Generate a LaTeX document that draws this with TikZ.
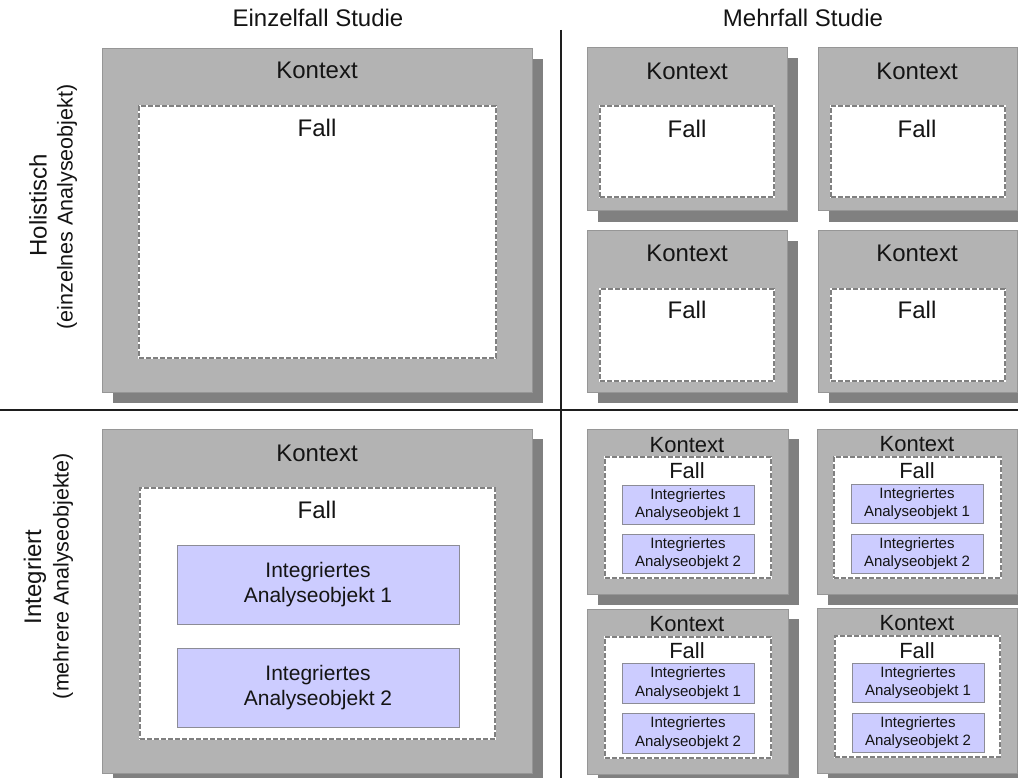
\documentclass[tikz,border=0pt]{standalone}
\usepackage{fontspec}
\setmainfont{Liberation Sans}
\usetikzlibrary{fit}

\definecolor{ctxfill}{RGB}{179,179,179}
\definecolor{ctxline}{RGB}{150,150,150}
\definecolor{shadowc}{RGB}{128,128,128}
\definecolor{fallline}{RGB}{128,128,128}
\definecolor{objfill}{RGB}{204,204,255}
\definecolor{objline}{RGB}{140,140,150}
\definecolor{ink}{RGB}{20,20,20}
\definecolor{rule}{RGB}{30,30,30}

\tikzset{
  ctx/.style={draw=ctxline, fill=ctxfill, line width=1pt, inner sep=0pt},
  shade/.style={fill=shadowc},
  fallbox/.style={fill=white, draw=fallline, line width=1.8pt, inner sep=0pt,
    dash pattern=on 5pt off 2pt,
    preaction={draw=white, solid, line width=1.8pt}},
  obj/.style={draw=objline, fill=objfill, line width=1pt, inner sep=0pt},
  lbl/.style={text=ink, inner sep=0pt, anchor=base},
  biglbl/.style={lbl, font=\fontsize{24}{28}\selectfont},
  midlbl/.style={lbl, font=\fontsize{22}{26}\selectfont},
  objtxt/.style={text=ink, inner sep=0pt, align=center, font=\fontsize{21}{25}\selectfont},
  smallobjtxt/.style={text=ink, inner sep=0pt, align=center, font=\fontsize{15}{18.5}\selectfont},
  sidelbl/.style={text=ink, inner sep=0pt, rotate=90, font=\fontsize{24}{28}\selectfont},
  sidesub/.style={text=ink, inner sep=0pt, rotate=90, font=\fontsize{21.5}{26}\selectfont},
  divider/.style={draw=rule, line width=2pt},
}

% context box with its drop shadow: name, x1, y1, x2, y2
\newcommand\ctxbox[5]{%
  \fill[shade] ({#2+11},{#3+10}) rectangle ({#4+11},{#5+11});
  \node[ctx, fit={(#2,#3) (#4,#5)}] (#1) {};}
% dashed case box: name, x1, y1, x2, y2
\newcommand\casebox[5]{\node[fallbox, fit={(#2,#3) (#4,#5)}] (#1) {};}
% analysis object box: name, x1, y1, x2, y2
\newcommand\objbox[5]{\node[obj, fit={(#2,#3) (#4,#5)}] (#1) {};}

\begin{document}
\begin{tikzpicture}[x=1pt, y=-1pt]
\useasboundingbox[fill=white] (0,0) rectangle (1018,778);

% column headings
\node[biglbl] (hEinzel) at (318,27) {Einzelfall Studie};
\node[biglbl] (hMehr) at (803,27) {Mehrfall Studie};

% row headings
\node[sidelbl] (rHol) at (38,205) {Holistisch};
\node[sidesub] (rHolSub) at (67,207) {(einzelnes Analyseobjekt)};
\node[sidelbl] (rInt) at (35,577) {Integriert};
\node[sidesub] (rIntSub) at (63,576) {(mehrere Analyseobjekte)};

% quadrant dividers
\coordinate (vTop) at (561,30);
\coordinate (vBot) at (561,778);
\coordinate (hL) at (0,410);
\coordinate (hR) at (1018,410);
\draw[divider] (vTop) -- (vBot);
\draw[divider] (hL) -- (hR);

% ---- holistic, single case
\ctxbox{a}{102}{49}{532}{392}
\casebox{af}{139}{106}{496}{358}
\node[biglbl] (ak) at (317,79) {Kontext};
\node[biglbl] (afl) at (317,137) {Fall};

% ---- holistic, multiple cases
\ctxbox{b1}{587}{48}{787}{211}
\casebox{b1f}{600}{106}{774}{197}
\node[biglbl] (b1k) at (687,80) {Kontext};
\node[biglbl] (b1l) at (687,138) {Fall};

\ctxbox{b2}{818}{48}{1017}{211}
\casebox{b2f}{831}{106}{1005}{197}
\node[biglbl] (b2k) at (917,80) {Kontext};
\node[biglbl] (b2l) at (917,138) {Fall};

\ctxbox{b3}{587}{231}{787}{392}
\casebox{b3f}{600}{289}{774}{381}
\node[biglbl] (b3k) at (687,262) {Kontext};
\node[biglbl] (b3l) at (687,319) {Fall};

\ctxbox{b4}{818}{231}{1017}{392}
\casebox{b4f}{831}{289}{1005}{381}
\node[biglbl] (b4k) at (917,262) {Kontext};
\node[biglbl] (b4l) at (917,319) {Fall};

% ---- embedded, single case
\ctxbox{c}{102}{429}{532}{773}
\casebox{cf}{140}{488}{495}{739}
\node[biglbl] (ck) at (317,461) {Kontext};
\node[biglbl] (cl) at (317,518) {Fall};
\objbox{co1}{177}{545}{459}{624}
\node[objtxt] (co1t) at (co1.center) {Integriertes\\Analyseobjekt 1};
\objbox{co2}{177}{648}{459}{727}
\node[objtxt] (co2t) at (co2.center) {Integriertes\\Analyseobjekt 2};

% ---- embedded, multiple cases
\ctxbox{d1}{587}{429}{788}{594}
\casebox{d1f}{605}{457}{771}{578}
\node[midlbl] (d1k) at (687,452) {Kontext};
\node[midlbl] (d1l) at (687,478) {Fall};
\objbox{d1o1}{622}{485}{754}{524}
\node[smallobjtxt] (d1o1t) at (d1o1.center) {Integriertes\\Analyseobjekt 1};
\objbox{d1o2}{622}{534}{754}{573}
\node[smallobjtxt] (d1o2t) at (d1o2.center) {Integriertes\\Analyseobjekt 2};

\ctxbox{d2}{817}{429}{1017}{594}
\casebox{d2f}{834}{457}{1001}{578}
\node[midlbl] (d2k) at (917,451) {Kontext};
\node[midlbl] (d2l) at (917,478) {Fall};
\objbox{d2o1}{851}{484}{983}{523}
\node[smallobjtxt] (d2o1t) at (d2o1.center) {Integriertes\\Analyseobjekt 1};
\objbox{d2o2}{851}{534}{983}{573}
\node[smallobjtxt] (d2o2t) at (d2o2.center) {Integriertes\\Analyseobjekt 2};

\ctxbox{d3}{587}{609}{788}{774}
\casebox{d3f}{605}{637}{771}{758}
\node[midlbl] (d3k) at (687,631) {Kontext};
\node[midlbl] (d3l) at (687,658) {Fall};
\objbox{d3o1}{622}{663}{754}{703}
\node[smallobjtxt] (d3o1t) at (d3o1.center) {Integriertes\\Analyseobjekt 1};
\objbox{d3o2}{622}{713}{754}{753}
\node[smallobjtxt] (d3o2t) at (d3o2.center) {Integriertes\\Analyseobjekt 2};

\ctxbox{d4}{817}{608}{1017}{773}
\casebox{d4f}{835}{636}{1000}{757}
\node[midlbl] (d4k) at (917,630) {Kontext};
\node[midlbl] (d4l) at (917,658) {Fall};
\objbox{d4o1}{852}{663}{984}{702}
\node[smallobjtxt] (d4o1t) at (d4o1.center) {Integriertes\\Analyseobjekt 1};
\objbox{d4o2}{852}{713}{984}{752}
\node[smallobjtxt] (d4o2t) at (d4o2.center) {Integriertes\\Analyseobjekt 2};
\end{tikzpicture}
\end{document}
